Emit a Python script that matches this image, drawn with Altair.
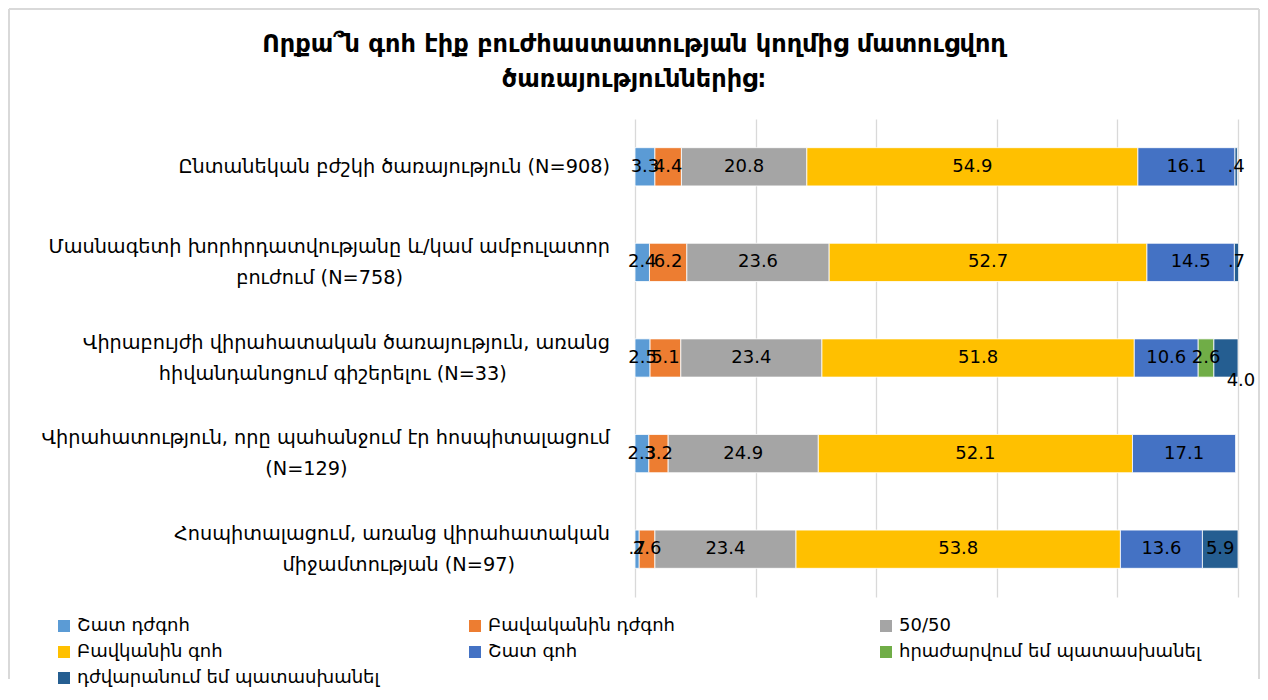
import altair as alt
import pandas as pd

# ---------------- data ----------------
title_lines = ["Որքա՞ն գոհ էիք բուժհաստատության կողմից մատուցվող", "ծառայություններից։"]

categories = [
    "Ընտանեկան  բժշկի ծառայություն (N=908)",
    "Մասնագետի  խորհրդատվությանը և/կամ ամբուլատոր\nբուժում (N=758)",
    "Վիրաբույժի վիրահատական ծառայություն, առանց\nհիվանդանոցում գիշերելու (N=33)",
    "Վիրահատություն, որը պահանջում էր հոսպիտալացում\n(N=129)",
    "Հոսպիտալացում, առանց վիրահատական\nմիջամտության (N=97)",
]

series = [
    "Շատ դժգոհ",
    "Բավականին դժգոհ",
    "50/50",
    "Բավկանին գոհ",
    "Շատ գոհ",
    "հրաժարվում եմ պատասխանել",
    "դժվարանում եմ պատասխանել",
]
colors = ["#5B9BD5", "#ED7D31", "#A5A5A5", "#FFC000", "#4472C4", "#70AD47", "#255E91"]

very_dissatisfied = [3.3, 2.4, 2.5, 2.3, 0.7]
rather_dissatisfied = [4.4, 6.2, 5.1, 3.2, 2.6]
fifty_fifty = [20.8, 23.6, 23.4, 24.9, 23.4]
rather_satisfied = [54.9, 52.7, 51.8, 52.1, 53.8]
very_satisfied = [16.1, 14.5, 10.6, 17.1, 13.6]
refused = [0.0, 0.0, 2.6, 0.0, 0.0]
hard_to_answer = [0.4, 0.7, 4.0, 0.0, 5.9]

all_values = [very_dissatisfied, rather_dissatisfied, fifty_fifty,
              rather_satisfied, very_satisfied, refused, hard_to_answer]

# ---------------- tables ----------------
rows = []
for si, (s, vals) in enumerate(zip(series, all_values)):
    for ci, c in enumerate(categories):
        v = vals[ci]
        rows.append({
            "category": c, "series": s, "order": si, "value": v,
            "label": f"{v:.1f}".lstrip("0"),
            "moved": (si == 6 and ci == 2),
        })
df = pd.DataFrame(rows)

cat_df = pd.DataFrame({
    "category": categories,
    "line1": [c.split("\n")[0] for c in categories],
    "line2": [c.split("\n")[1] if "\n" in c else "" for c in categories],
})

leg_df = pd.DataFrame({
    "series": series,
    "col": [i % 3 for i in range(len(series))],
    "row": [i // 3 for i in range(len(series))],
})

one = pd.DataFrame({"a": [0]})

FONT = "DejaVu Sans"
CAT_FS = 19.3
W, H = 603, 478

yscale = alt.Scale(domain=categories, paddingInner=0.6, paddingOuter=0.3)
xscale = alt.Scale(domain=[0, 100], nice=False, zero=True)
cscale = alt.Scale(domain=series, range=colors)

base = alt.Chart(df).transform_stack(
    stack="value", groupby=["category"], sort=[alt.SortField("order")], as_=["v0", "v1"]
).transform_filter("datum.value > 0")

bars = base.mark_bar(stroke="white", strokeWidth=0.8).encode(
    y=alt.Y("category:N", scale=yscale, axis=None, sort=categories),
    x=alt.X("v0:Q", scale=xscale,
            axis=alt.Axis(values=[0, 20, 40, 60, 80, 100], grid=True, gridColor="#d9d9d9",
                          gridWidth=1.3, labels=False, ticks=False, domain=False, title=None)),
    x2="v1:Q",
    color=alt.Color("series:N", scale=cscale, legend=None),
)

val_labels = base.transform_filter("!datum.moved").transform_calculate(
    mid="(datum.v0 + datum.v1) / 2"
).mark_text(fontSize=18, font=FONT, color="black", baseline="middle").encode(
    y=alt.Y("category:N", scale=yscale, axis=None, sort=categories),
    x=alt.X("mid:Q", scale=xscale, axis=None),
    text="label:N",
)

moved_labels = base.transform_filter("datum.moved").transform_calculate(
    mid="(datum.v0 + datum.v1) / 2"
).mark_text(fontSize=18, font=FONT, color="black", baseline="middle", dx=15, dy=23).encode(
    y=alt.Y("category:N", scale=yscale, axis=None, sort=categories),
    x=alt.X("mid:Q", scale=xscale, axis=None),
    text="label:N",
)

cat_base = alt.Chart(cat_df)
single = cat_base.transform_filter("datum.line2 == ''").mark_text(
    fontSize=CAT_FS, font=FONT, color="black", align="right", baseline="middle"
).encode(
    y=alt.Y("category:N", scale=yscale, axis=None, sort=categories),
    x=alt.value(-25),
    text="line1:N",
)
first = cat_base.transform_filter("datum.line2 != ''").mark_text(
    fontSize=CAT_FS, font=FONT, color="black", align="right", baseline="middle", dy=-15.5
).encode(
    y=alt.Y("category:N", scale=yscale, axis=None, sort=categories),
    x=alt.value(-25),
    text="line1:N",
)
second = cat_base.transform_filter("datum.line2 != ''").transform_calculate(
    lx="-25 - length(datum.line1) * 6.6"
).mark_text(
    fontSize=CAT_FS, font=FONT, color="black", align="center", baseline="middle", dy=15.5
).encode(
    y=alt.Y("category:N", scale=yscale, axis=None, sort=categories),
    x=alt.X("lx:Q", scale=alt.Scale(domain=[-1000, 0], range=[-1000, 0], nice=False, zero=False), axis=None),
    text="line2:N",
)

legx = alt.Scale(domain=[0, 2], range=[-571, 251], nice=False, zero=False)
legy = alt.Scale(domain=[0, 2], range=[507, 559], nice=False, zero=False)
leg_sw = alt.Chart(leg_df).mark_square(size=144, opacity=1).encode(
    x=alt.X("col:Q", scale=legx, axis=None),
    y=alt.Y("row:Q", scale=legy, axis=None),
    color=alt.Color("series:N", scale=cscale, legend=None),
)
leg_tx = alt.Chart(leg_df).mark_text(
    fontSize=18, font=FONT, color="black", align="left", baseline="middle", dx=13
).encode(
    x=alt.X("col:Q", scale=legx, axis=None),
    y=alt.Y("row:Q", scale=legy, axis=None),
    text="series:N",
)

title = alt.Chart(one).mark_text(
    text=title_lines, fontSize=24, fontWeight="bold", font=FONT, color="black",
    align="center", baseline="middle", lineHeight=35
).encode(x=alt.value(-1), y=alt.value(-74))

border_col = "#d9d9d9"
b_top = alt.Chart(one).mark_rule(color=border_col, strokeWidth=2).encode(
    x=alt.value(-626), x2=alt.value(624), y=alt.value(-110))
b_left = alt.Chart(one).mark_rule(color=border_col, strokeWidth=2).encode(
    x=alt.value(-626), y=alt.value(-110), y2=alt.value(560))
b_right = alt.Chart(one).mark_rule(color=border_col, strokeWidth=2).encode(
    x=alt.value(624), y=alt.value(-110), y2=alt.value(560))

chart = alt.layer(
    b_top, b_left, b_right, title, bars, val_labels, moved_labels,
    single, first, second, leg_sw, leg_tx
).resolve_scale(x="independent", y="independent").properties(
    width=W, height=H, padding=0
).configure_view(stroke=None)

chart.save("out.html", embed_options={"renderer": "svg", "actions": False})
